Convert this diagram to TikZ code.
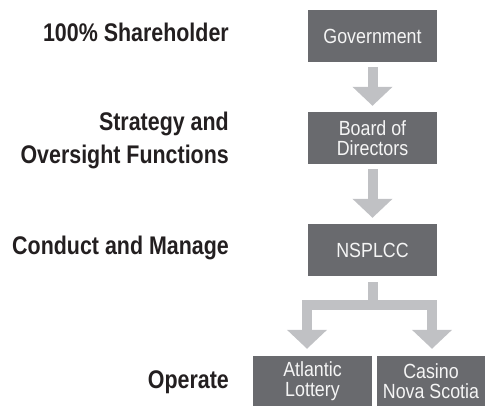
\documentclass[tikz,border=0pt]{standalone}
\usepackage{fontspec}
\setmainfont{Liberation Sans}
\newfontfamily\boxfont{Liberation Sans}[FakeStretch=0.87]
\newfontfamily\lblfont{Liberation Sans}[FakeStretch=0.84]
\usetikzlibrary{arrows.meta}
\definecolor{boxgray}{RGB}{105,106,110}
\definecolor{flowgray}{RGB}{192,193,196}
\definecolor{inkblack}{RGB}{35,31,32}
\definecolor{boxtext}{RGB}{245,245,245}
\tikzset{
  box/.style={fill=boxgray, text=boxtext, minimum height=52pt, inner sep=0pt, align=center,
    font=\boxfont\fontsize{20.5}{20.5}\selectfont},
  lbl/.style={text=inkblack, align=right, inner sep=0pt, anchor=east,
    font=\lblfont\bfseries\fontsize{25.5}{33}\selectfont},
  flow/.style={draw=flowgray, line width=10pt, line join=miter,
    -{Triangle[width=39pt,length=19pt]}}
}
\begin{document}
\begin{tikzpicture}[x=1pt,y=-1pt]
  \useasboundingbox (0,0) rectangle (486,406);
  % chain of command
  \node[box, minimum width=129pt] (gov) at (372.5,36) {Government};
  \node[box, minimum width=129pt] (board) at (372.5,138) {Board of\\Directors};
  \node[box, minimum width=129pt] (nsplcc) at (372.5,250) {NSPLCC};
  \node[box, minimum width=119pt, minimum height=50pt] (atl) at (312.5,381) {Atlantic\\Lottery};
  \node[box, minimum width=108pt, minimum height=50pt] (cas) at (431,381) {Casino\\Nova Scotia};
  % roles on the left
  \node[lbl] (owner) at (229,32) {100\% Shareholder};
  \node[lbl] (oversight) at (229,140) {Strategy and\\Oversight Functions};
  \node[lbl] (manage) at (229,248) {Conduct and Manage};
  \node[lbl] (operate) at (229,382) {Operate};
  % arrows
  \draw[flow] ([yshift=-5pt]gov.south) -- ([yshift=6pt]board.north);
  \draw[flow] ([yshift=-5pt]board.south) -- ([yshift=6pt]nsplcc.north);
  \coordinate (fork) at ([yshift=-29pt]nsplcc.south);
  \draw[flow] ([yshift=-6pt]nsplcc.south) -- (fork) -| ([xshift=-5.5pt,yshift=7pt]atl.north);
  \draw[flow] (fork) -| ([xshift=1pt,yshift=7pt]cas.north);
\end{tikzpicture}
\end{document}
